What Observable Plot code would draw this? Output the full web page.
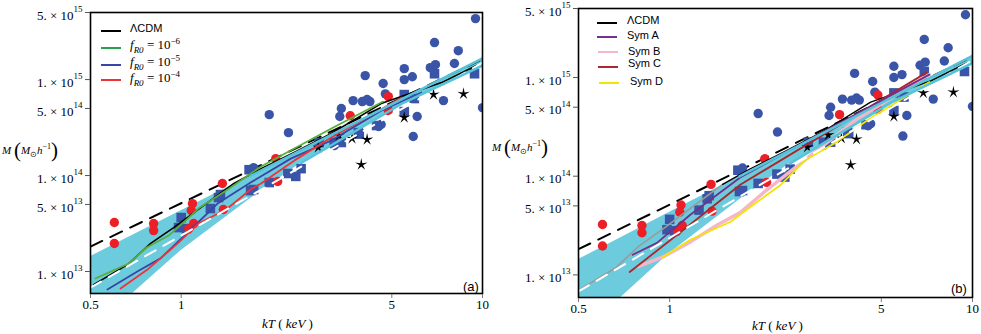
<!DOCTYPE html>
<html><head><meta charset="utf-8">
<script src="https://cdn.jsdelivr.net/npm/d3@7"></script>
<script src="https://cdn.jsdelivr.net/npm/@observablehq/plot@0.6"></script>
<style>
body{margin:0;background:#fff;}
#wrap{position:relative;width:981px;height:334px;overflow:hidden;font-family:"Liberation Serif",serif;color:#000;}
.panel{position:absolute;top:0;}
.lbl{position:absolute;white-space:nowrap;transform:translateY(-50%);line-height:1;}
.sans{font-family:"Liberation Sans",Arial,sans-serif;font-size:11px;}
.key{position:absolute;height:2px;width:20px;}
.ser{font-family:"Liberation Serif",serif;font-size:13px;}
</style></head><body><div id="wrap"></div>
<script>
// ---------- data (kT in keV, M in Msun/h) ----------
const blueCircT = [9.48, 6.93, 8.31, 5.50, 5.85, 5.50, 6.71, 6.98, 8.07, 4.08, 4.68, 3.72, 3.99, 4.14, 4.23, 3.40, 3.36, 7.42, 6.07, 5.89, 1.96, 2.27, 10.0, 4.61, 4.52, 1.74, 3.22, 4.76];
const blueCircM = [4.32e15, 2.43e15, 2.0e15, 1.30e15, 1.07e15, 1.0e15, 1.33e15, 1.43e15, 1.47e15, 1.10e15, 9.1e14, 6.04e14, 5.9e14, 6.19e14, 5.9e14, 4.99e14, 4.12e14, 6.04e14, 4.12e14, 2.55e14, 4.31e14, 2.8e14, 5.1e14, 3.4e14, 3.24e14, 1.21e14, 2.05e14, 7.1e14];
const blueSqT = [6.93, 9.41, 5.50, 5.94, 5.50, 4.45, 3.87, 2.87, 3.22, 3.40, 2.50, 2.40, 2.26, 1.96, 1.74, 1.25, 1.33, 1.0, 0.98, 1.04, 1.68, 1.70, 1.35, 3.90];
const blueSqM = [1.15e15, 1.15e15, 6.98e14, 6.34e14, 4.64e14, 3.32e14, 2.8e14, 2.21e14, 2.21e14, 2.21e14, 1.18e14, 9.8e13, 1.05e14, 8.45e13, 7.15e13, 4.53e13, 5.9e13, 3.65e13, 2.87e13, 2.8e13, 1.15e14, 6.98e13, 6.34e13, 2.7e14];
const redCircT = [4.87, 3.64, 4.87, 2.06, 2.09, 1.37, 1.38, 0.60, 0.60, 0.81, 0.81, 1.09, 1.08, 1.10, 1.06];
const redCircM = [6.65e14, 4.2e14, 4.75e14, 1.5e14, 8.66e13, 8.26e13, 4.43e13, 3.24e13, 1.96e13, 3.16e13, 2.67e13, 5.1e13, 4.32e13, 3.16e13, 2.8e13];
const starT = [6.88, 8.65, 5.50, 3.69, 4.14, 3.34, 2.85, 3.96];
const starM = [6.98e14, 7.1e14, 4.02e14, 2.43e14, 2.37e14, 2.61e14, 1.96e14, 1.30e14];

// fit band (cyan) and best fit (white dashed)
const bandT  = [0.5, 0.69, 1.0, 1.7, 2.5, 5.4, 10];
const bandLo = [2.4e12, 5.9e12, 1.66e13, 5.76e13, 1.35e14, 5.6e14, 1.4e15];
const bandHi = [1.43e13, 2.38e13, 4.3e13, 9.95e13, 1.84e14, 6.24e14, 1.66e15];
const fitT = [0.5, 10];
const fitM = [6.8e12, 1.5e15];
// self-similar (black dashed)
const ssT = [0.5, 10];
const ssM = [1.82e13, 1.63e15];

// model curves
const lcdmT = [0.512, 0.664, 0.792, 0.944, 1.161, 1.496, 1.84, 2.37, 3.15, 4.61, 7.31, 9.55];
const lcdmM = [7.3e12, 1.18e13, 1.96e13, 2.87e13, 4.64e13, 8.26e13, 1.18e14, 1.74e14, 2.74e14, 5.62e14, 9.3e14, 1.4e15];
const f6T = [0.519, 0.669, 0.768, 0.909, 1.06, 1.14, 1.41, 1.84, 3.15, 4.68];
const f6M = [8.45e12, 1.21e13, 1.78e13, 2.37e13, 3.65e13, 4.53e13, 6.98e13, 1.24e14, 3.09e14, 5.9e14];
const f5T = [0.569, 0.722, 0.854, 1.05, 1.32, 1.70, 2.31, 3.15, 4.61, 6.27];
const f5M = [6.5e12, 1.02e13, 1.37e13, 2.55e13, 5.1e13, 8.45e13, 1.5e14, 2.32e14, 4.75e14, 7.33e14];
const f4T = [0.629, 0.779, 0.98, 1.14, 1.41, 1.70, 1.84, 2.37, 3.15, 5.4];
const f4M = [6.66e12, 1.07e13, 2.0e13, 3.16e13, 4.43e13, 7.15e13, 8.26e13, 1.43e14, 2.49e14, 6.5e14];
const symAT = [0.755, 0.908, 1.17, 1.71, 3.0, 7.2];
const symAM = [1.6e13, 2.11e13, 4.07e13, 9.7e13, 2.5e14, 1.07e15];
const symBT = [0.785, 0.95, 1.17, 1.44, 1.71, 2.04, 4.13, 7.2];
const symBM = [1.21e13, 1.52e13, 2.16e13, 3.22e13, 4.27e13, 6.8e13, 3.75e14, 1.07e15];
const symCT = [0.738, 1.08, 1.71, 7.05];
const symCM = [1.07e13, 2.67e13, 8.2e13, 1.12e15];
const symDT = [0.944, 1.17, 1.59, 1.85, 2.33, 2.82, 3.54, 4.56, 7.2];
const symDM = [1.49e13, 2.27e13, 3.45e13, 4.9e13, 8.2e13, 1.47e14, 2.19e14, 3.8e14, 9e14];

// ticks
const xTicks = [0.5, 1, 5, 10];
const xTickLabels = ["0.5", "1", "5", "10"];
const yTicks = [5e15, 1e15, 5e14, 1e14, 5e13, 1e13];
const yTickMant = ["5. \u00d7 10", "1. \u00d7 10", "5. \u00d7 10", "1. \u00d7 10", "5. \u00d7 10", "1. \u00d7 10"];
const yTickExp = ["15", "15", "14", "14", "13", "13"];

// ---------- build ----------
const pts = (T, M) => T.map((t, i) => ({T: t, M: M[i]}));
const band = bandT.map((t, i) => ({T: t, lo: bandLo[i], hi: bandHi[i]}));
const xTickData = xTicks.map((v, i) => ({v, label: xTickLabels[i]}));
const yTickData = yTicks.map((v, i) => ({v, mant: yTickMant[i], exp: yTickExp[i]}));
const thinStar = {draw(ctx, size) {
  const R = Math.sqrt(size / Math.PI), ri = R * 0.28;
  for (let i = 0; i < 10; i++) {
    const a = -Math.PI / 2 + i * Math.PI / 5, rr = i % 2 ? ri : R;
    const x = rr * Math.cos(a), y = rr * Math.sin(a);
    if (i) ctx.lineTo(x, y); else ctx.moveTo(x, y);
  }
  ctx.closePath();
}};

const C = {band: "#6ccbdd", edge: "#55c3d8", blue: "#3a55a7", red: "#ec1f26"};
const SERIF = '"Liberation Serif", "Times New Roman", serif';

function panel(o) {
  const fh = 334 - o.mT - o.mB, fw = o.width - o.mL - o.mR;
  const marks = [
    Plot.areaY(band, {x: "T", y1: "lo", y2: "hi", fill: C.band, clip: true}),
    Plot.line(pts(ssT, ssM), {x: "T", y: "M", stroke: "black", strokeWidth: 2, strokeDasharray: "13,9", clip: true}),
    Plot.dot(pts(blueCircT, blueCircM), {x: "T", y: "M", r: 4.7, fill: C.blue, clip: true}),
    Plot.dot(pts(blueSqT, blueSqM), {x: "T", y: "M", r: 5.4, symbol: "square", fill: C.blue, clip: true}),
    Plot.dot(pts(redCircT, redCircM), {x: "T", y: "M", r: 4.7, fill: C.red, clip: true}),
    Plot.dot(pts(starT, starM), {x: "T", y: "M", r: 6.5, symbol: thinStar, fill: "black", clip: true}),
    ...o.curves,
    Plot.line(pts(fitT, fitM), {x: "T", y: "M", stroke: "white", strokeWidth: 2, strokeDasharray: "12,9", clip: true}),
    Plot.line(band.filter(d => d.T >= 1.7), {x: "T", y: "hi", stroke: C.edge, strokeWidth: 2.5, clip: true}),
    Plot.line(band.filter(d => d.T >= 2.5), {x: "T", y: "lo", stroke: C.edge, strokeWidth: 2.5, clip: true}),
    Plot.frame({stroke: "black", strokeWidth: 1.6}),
    // x ticks + labels
    Plot.tickX(xTickData, {x: "v", insetTop: fh - 4, dy: 5, stroke: "#777"}),
    Plot.text(xTickData, {x: "v", text: "label", frameAnchor: "bottom", dy: 15, fontSize: 13, fontFamily: SERIF}),
    // y ticks + labels with superscript exponent
    Plot.tickY(yTickData, {y: "v", insetRight: fw - 5, dx: -5, stroke: "#555"}),
    Plot.text(yTickData, {y: "v", text: "mant", frameAnchor: "left", textAnchor: "end", dx: -17, dy: 3, fontSize: 13, fontFamily: SERIF}),
    Plot.text(yTickData, {y: "v", text: "exp", frameAnchor: "left", textAnchor: "start", dx: -17, dy: -3.5, fontSize: 9, fontFamily: SERIF})
  ];
  const svg = Plot.plot({
    width: o.width, height: 334,
    marginLeft: o.mL, marginRight: o.mR, marginTop: o.mT, marginBottom: o.mB,
    style: {fontFamily: SERIF, fontSize: "13px", background: "transparent", color: "black", overflow: "visible"},
    x: {type: "log", domain: [0.5, 10], axis: null},
    y: {type: "log", domain: [5.9e12, 5e15], axis: null},
    marks
  });
  svg.classList.add("panel");
  svg.style.left = o.left + "px";
  return svg;
}

const wrap = document.getElementById("wrap");
const lcdmAll = pts(lcdmT, lcdmM);
wrap.append(panel({
  left: 0, width: 490, mL: 90, mR: 8, mT: 12, mB: 41,
  curves: [
    Plot.line(lcdmAll, {x: "T", y: "M", stroke: "black", strokeWidth: 1.6, clip: true}),
    Plot.line(pts(f6T, f6M), {x: "T", y: "M", stroke: "#5aaf3a", strokeWidth: 1.8, clip: true}),
    Plot.line(pts(f5T, f5M), {x: "T", y: "M", stroke: "#3a45a5", strokeWidth: 1.8, clip: true}),
    Plot.line(pts(f4T, f4M), {x: "T", y: "M", stroke: "#ee3338", strokeWidth: 1.8, clip: true})
  ]
}));
wrap.append(panel({
  left: 490, width: 491, mL: 88, mR: 9, mT: 8, mB: 37,
  curves: [
    Plot.line(lcdmAll.filter(d => d.T <= 1.5), {x: "T", y: "M", stroke: "#9a9a9a", strokeWidth: 1.6, clip: true}),
    Plot.line(lcdmAll.filter(d => d.T >= 1.49), {x: "T", y: "M", stroke: "black", strokeWidth: 1.4, clip: true}),
    Plot.line(pts(symBT, symBM), {x: "T", y: "M", stroke: "#f4b6c9", strokeWidth: 3.5, clip: true}),
    Plot.line(pts(symDT, symDM), {x: "T", y: "M", stroke: "#f2e500", strokeWidth: 1.8, clip: true}),
    Plot.line(pts(symCT, symCM), {x: "T", y: "M", stroke: "#a8282c", strokeWidth: 1.8, clip: true}),
    Plot.line(pts(symAT, symAM), {x: "T", y: "M", stroke: "#74308a", strokeWidth: 1.8, clip: true})
  ]
}));

// ---------- text & legends ----------
function lbl(html, x, y, cls, style) {
  const d = document.createElement("div");
  d.className = "lbl " + (cls || "");
  d.style.left = x + "px"; d.style.top = y + "px";
  if (style) d.style.cssText += style;
  d.innerHTML = html;
  wrap.append(d);
}
function key(color, x, y, w, h) {
  const d = document.createElement("div");
  d.className = "key";
  d.style.cssText += `left:${x}px;top:${y - (h || 2) / 2}px;width:${w || 20}px;height:${h || 2}px;background:${color}`;
  wrap.append(d);
}
const yLabel = '<i>M</i> <span style="font-size:21px;vertical-align:-3px">(</span><i>M</i><sub style="font-size:8px">\u2299</sub><i>h</i><sup style="font-size:8px">\u22121</sup><span style="font-size:21px;vertical-align:-3px">)</span>';
lbl(yLabel, 2, 150, "ser", "font-size:11px");
lbl(yLabel, 492, 147, "ser", "font-size:11px");
const xLabel = '<i>kT</i> <span>(</span> <i>keV</i> <span>)</span>';
lbl(xLabel, 262, 323, "ser", "font-size:13px");
lbl(xLabel, 752, 325, "ser", "font-size:13px");
lbl("(a)", 463, 286, "sans", "font-size:13px");
lbl("(b)", 951, 288, "sans", "font-size:13px");

// legend (a)
key("black", 101, 31); lbl("\u039bCDM", 130, 28, "sans");
const fLab = e => '<i>f</i><sub style="font-size:9px"><i>R0</i></sub> = 10<sup style="font-size:9px">\u2212' + e + '</sup>';
key("#2aa04a", 101, 48); lbl(fLab(6), 130, 46, "ser");
key("#3a45a5", 101, 65); lbl(fLab(5), 130, 63, "ser");
key("#ee3338", 101, 80); lbl(fLab(4), 130, 79, "ser");
// legend (b)
key("black", 597, 23); lbl("\u039bCDM", 627, 20, "sans");
key("#74308a", 597, 37); lbl("Sym A", 627, 34.5, "sans");
key("#f4b6c9", 598, 52); lbl("Sym B", 628, 51, "sans");
key("#a8282c", 598, 67); lbl("Sym C", 628, 63, "sans");
key("#f2e500", 599, 83); lbl("Sym D", 630, 80.5, "sans");
</script>
</body></html>
